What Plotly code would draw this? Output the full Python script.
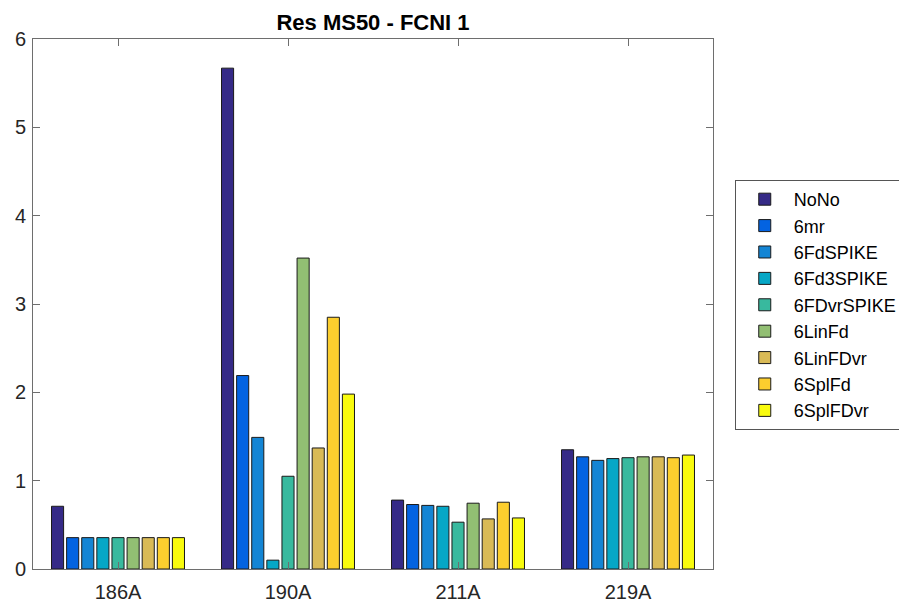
import plotly.graph_objects as go

categories = ["186A", "190A", "211A", "219A"]
series_names = ["NoNo", "6mr", "6FdSPIKE", "6Fd3SPIKE", "6FDvrSPIKE",
                "6LinFd", "6LinFDvr", "6SplFd", "6SplFDvr"]
colors = ["#352a87", "#0363e1", "#1485d4", "#06a7c6", "#38b99e",
          "#92bf73", "#d9ba56", "#fcce2e", "#f9fb0e"]

NoNo = [0.71, 5.67, 0.78, 1.35]
mr6 = [0.355, 2.19, 0.73, 1.27]
FdSPIKE6 = [0.355, 1.49, 0.72, 1.23]
Fd3SPIKE6 = [0.355, 0.10, 0.71, 1.25]
FDvrSPIKE6 = [0.355, 1.05, 0.53, 1.26]
LinFd6 = [0.355, 3.52, 0.745, 1.27]
LinFDvr6 = [0.355, 1.37, 0.567, 1.27]
SplFd6 = [0.355, 2.85, 0.756, 1.26]
SplFDvr6 = [0.355, 1.98, 0.578, 1.29]

values = [NoNo, mr6, FdSPIKE6, Fd3SPIKE6, FDvrSPIKE6, LinFd6, LinFDvr6, SplFd6, SplFDvr6]

yticks = [0, 1, 2, 3, 4, 5, 6]

fig = go.Figure()
for name, col, vals in zip(series_names, colors, values):
    fig.add_trace(go.Bar(
        x=categories, y=vals, name=name,
        marker=dict(color=col, line=dict(color="#1a1a1a", width=1)),
    ))

axis_color = "#6e6e6e"
font_color = "#262626"
fig.update_layout(
    width=907, height=605,
    margin=dict(l=25, r=202, t=31, b=44, autoexpand=False),
    paper_bgcolor="white", plot_bgcolor="white",
    barmode="group", bargap=0.2, bargroupgap=0.2,
    font=dict(family="Liberation Sans, Arial, sans-serif", size=20, color=font_color),
    title=dict(text="<b>Res MS50 - FCNI 1</b>", x=0.5, xref="paper", xanchor="center",
               y=1 - 14 / 605, yanchor="middle",
               font=dict(size=22, color="black")),
    showlegend=True,
    legend=dict(x=1.032, xanchor="left", y=0.734, yanchor="top",
                bordercolor="#555555", borderwidth=1, bgcolor="white",
                font=dict(size=18, color="black"), traceorder="normal",
                itemwidth=48),
)
fig.update_xaxes(
    type="category", range=[-0.5, 3.5],
    showline=True, linecolor=axis_color, linewidth=1, mirror="ticks",
    ticks="inside", ticklen=7, tickcolor=axis_color,
    ticklabelstandoff=5,
    showgrid=False, zeroline=False,
)
fig.update_yaxes(
    range=[0, 6], tickvals=yticks,
    showline=True, linecolor=axis_color, linewidth=1, mirror="ticks",
    ticks="inside", ticklen=7, tickcolor=axis_color,
    ticklabelstandoff=2,
    showgrid=False, zeroline=False,
)
fig.write_html("out.html")
